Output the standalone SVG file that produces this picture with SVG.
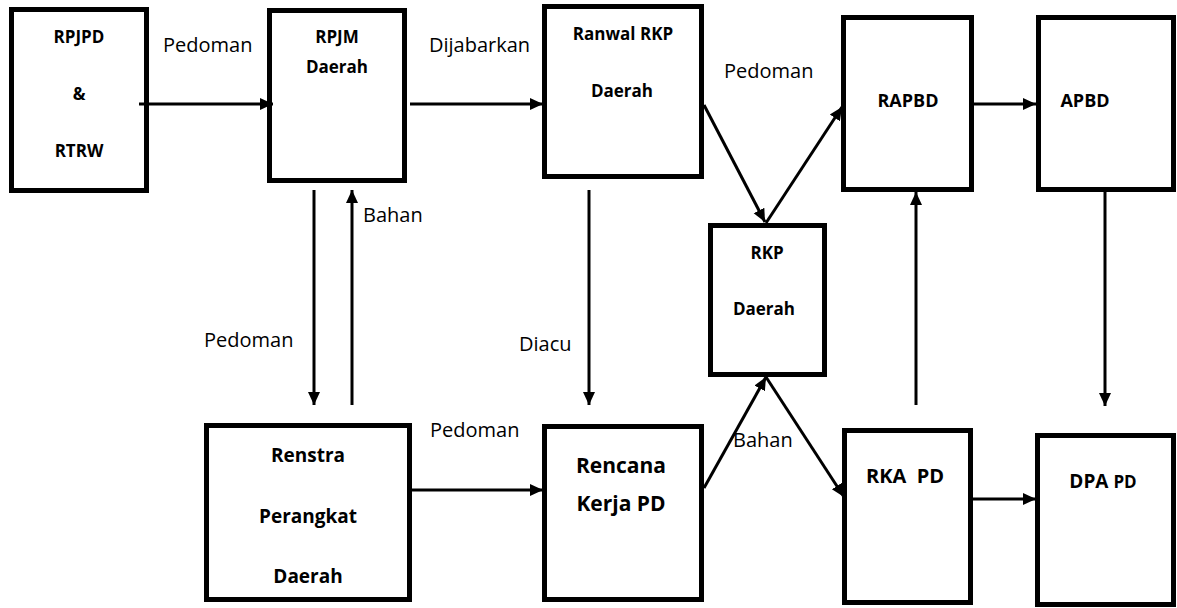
<svg xmlns="http://www.w3.org/2000/svg" width="1177" height="608" viewBox="0 0 1177 608">
<style>
.box{fill:#fff;stroke:#000;stroke-width:5}
.lbl{font-family:"Open Sans","Liberation Sans",sans-serif;font-size:20px;fill:#000}
.bt{font-family:"Open Sans","Liberation Sans",sans-serif;font-weight:bold;font-size:17px;fill:#000;text-anchor:middle}
.con line{stroke:#000;stroke-width:3}
</style>
<defs>
<marker id="ah" markerUnits="userSpaceOnUse" markerWidth="14" markerHeight="14" refX="13" refY="7" orient="auto">
<path d="M0,1 L13,7 L0,13 Z" fill="#000"/>
</marker>
</defs>
<rect width="1177" height="608" fill="#fff"/>
<g id="n-rpjpd"><rect class="box" x="11.5" y="9.5" width="135" height="181"/>
<text class="bt" x="79" y="43">RPJPD</text><text class="bt" x="79" y="100">&amp;</text><text class="bt" x="79" y="157">RTRW</text></g>
<g id="n-rpjm"><rect class="box" x="269.5" y="10.5" width="135" height="170"/>
<text class="bt" x="337" y="43">RPJM</text><text class="bt" x="337" y="73">Daerah</text></g>
<g id="n-ranwal"><rect class="box" x="544.5" y="6.5" width="157" height="170"/>
<text class="bt" x="623" y="40">Ranwal RKP</text><text class="bt" x="622" y="97">Daerah</text></g>
<g id="n-rapbd"><rect class="box" x="843.5" y="17.5" width="128" height="172"/>
<text class="bt" x="908" y="107" style="font-size:18px">RAPBD</text></g>
<g id="n-apbd"><rect class="box" x="1038.5" y="17.5" width="135" height="172"/>
<text class="bt" x="1085" y="107" style="font-size:18px">APBD</text></g>
<g id="n-rkp"><rect class="box" x="710.5" y="225.5" width="114" height="149"/>
<text class="bt" x="767" y="259">RKP</text><text class="bt" x="764" y="315">Daerah</text></g>
<g id="n-rka"><rect class="box" x="844.5" y="430.5" width="126" height="172"/>
<text class="bt" x="905" y="483" style="font-size:20px;white-space:pre" xml:space="preserve">RKA  PD</text></g>
<g id="n-dpa"><rect class="box" x="1037.5" y="435.5" width="136" height="169"/>
<text class="bt" x="1103" y="488" style="font-size:19px">DPA <tspan style="font-size:17px">PD</tspan></text></g>
<g id="n-renstra"><rect class="box" x="206.5" y="425.5" width="203" height="174"/>
<text class="bt" x="308" y="462" style="font-size:19px">Renstra</text><text class="bt" x="308" y="523" style="font-size:19px">Perangkat</text><text class="bt" x="308" y="583" style="font-size:19px">Daerah</text></g>
<g id="n-rencana"><rect class="box" x="544.5" y="426.5" width="157" height="173"/>
<text class="bt" x="621" y="473" style="font-size:21px">Rencana</text><text class="bt" x="621" y="511" style="font-size:21px">Kerja PD</text></g>
<g id="connectors" class="con">
<line x1="139" y1="104" x2="273" y2="104" marker-end="url(#ah)"/>
<line x1="410" y1="104" x2="543" y2="104" marker-end="url(#ah)"/>
<line x1="704" y1="105" x2="765" y2="222" marker-end="url(#ah)"/>
<line x1="766" y1="223" x2="842" y2="107" marker-end="url(#ah)"/>
<line x1="974" y1="104" x2="1036" y2="104" marker-end="url(#ah)"/>
<line x1="916" y1="405" x2="916" y2="192" marker-end="url(#ah)"/>
<line x1="1105" y1="192" x2="1105" y2="406" marker-end="url(#ah)"/>
<line x1="973" y1="499" x2="1036" y2="499" marker-end="url(#ah)"/>
<line x1="704" y1="488" x2="766" y2="377" marker-end="url(#ah)"/>
<line x1="766" y1="377" x2="844" y2="497" marker-end="url(#ah)"/>
<line x1="412" y1="490" x2="543" y2="490" marker-end="url(#ah)"/>
<line x1="314" y1="190" x2="314" y2="405" marker-end="url(#ah)"/>
<line x1="352" y1="405" x2="352" y2="190" marker-end="url(#ah)"/>
<line x1="589" y1="190" x2="589" y2="405" marker-end="url(#ah)"/>
</g>
<g id="labels">
<text class="lbl" x="163" y="52">Pedoman</text>
<text class="lbl" x="429" y="52">Dijabarkan</text>
<text class="lbl" x="724" y="78">Pedoman</text>
<text class="lbl" x="363" y="222">Bahan</text>
<text class="lbl" x="204" y="347">Pedoman</text>
<text class="lbl" x="519" y="351">Diacu</text>
<text class="lbl" x="430" y="437">Pedoman</text>
<text class="lbl" x="733" y="447">Bahan</text>
</g>
</svg>
